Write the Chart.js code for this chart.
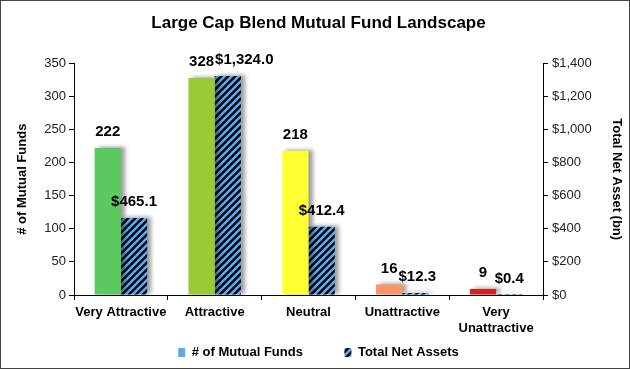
<!DOCTYPE html>
<html>
<head>
<meta charset="utf-8">
<script src="https://cdn.jsdelivr.net/npm/chart.js@4.4.0/dist/chart.umd.min.js"></script>
<style>
  html, body { margin: 0; padding: 0; background: #fff; }
  #wrap { width: 630px; height: 369px; }
</style>
</head>
<body>
<div id="wrap"><canvas id="fundcanvas" width="630" height="369"></canvas></div>
<script>
var categories  = ["Very Attractive", "Attractive", "Neutral", "Unattractive", ["Very", "Unattractive"]];
var fundCounts  = [222, 328, 218, 16, 9];
var netAssets   = [465.1, 1324.0, 412.4, 12.3, 0.4];
var fundColors  = ["#5cc95e", "#9acb34", "#ffff33", "#fb9468", "#d42020"];
var leftTicks   = [0, 50, 100, 150, 200, 250, 300, 350];
var rightTicks  = [0, 200, 400, 600, 800, 1000, 1200, 1400];

var FONT = "Arial, 'Liberation Sans', sans-serif";

// black/blue diagonal hatch for the asset bars
var hatch = (function () {
    var s = 7;
    var c = document.createElement('canvas');
    c.width = s; c.height = s;
    var g = c.getContext('2d');
    g.fillStyle = '#000';
    g.fillRect(0, 0, s, s);
    g.strokeStyle = '#5aabf5';
    g.lineWidth = 2.6;
    g.beginPath();
    g.moveTo(-1, 1); g.lineTo(1, -1);
    g.moveTo(0, s); g.lineTo(s, 0);
    g.moveTo(s - 1, s + 1); g.lineTo(s + 1, s - 1);
    g.stroke();
    return document.getElementById('fundcanvas').getContext('2d').createPattern(c, 'repeat');
})();

var shadowPlugin = {
    id: 'barShadow',
    beforeDatasetsDraw: function (chart) {
        var ctx = chart.ctx;
        ctx.save();
        ctx.shadowColor = 'rgba(0,0,0,0.38)';
        ctx.shadowBlur = 4;
        ctx.shadowOffsetX = 4;
        ctx.shadowOffsetY = -1;
    },
    afterDatasetsDraw: function (chart) {
        chart.ctx.restore();
    }
};

function fmtLabel(i, v) {
    if (i === 0) return String(v);
    return '$' + v.toLocaleString('en-US', { minimumFractionDigits: 1, maximumFractionDigits: 1 });
}

var labelPlugin = {
    id: 'valueLabels',
    afterDraw: function (chart) {
        var ctx = chart.ctx;
        ctx.save();
        ctx.font = "bold 15px " + FONT;
        ctx.fillStyle = '#000';
        ctx.textAlign = 'center';
        ctx.textBaseline = 'middle';
        var m0 = chart.getDatasetMeta(0).data;
        var m1 = chart.getDatasetMeta(1).data;
        for (var j = 0; j < m0.length; j++) {
            var t0 = fmtLabel(0, fundCounts[j]);
            var t1 = fmtLabel(1, netAssets[j]);
            var x0 = m0[j].x, x1 = m1[j].x;
            var y0 = m0[j].y - 16, y1 = m1[j].y - 16;
            // nudge the second label right when the two would collide
            if (Math.abs(y0 - y1) < 14) {
                var gap = (x1 - ctx.measureText(t1).width / 2) - (x0 + ctx.measureText(t0).width / 2);
                if (gap < 1) x1 += 1 - gap;
            }
            ctx.fillText(t0, x0, y0);
            ctx.fillText(t1, x1, y1);
        }
        ctx.restore();
    }
};

var borderPlugin = {
    id: 'frame',
    afterDraw: function (chart) {
        var ctx = chart.ctx;
        ctx.save();
        ctx.strokeStyle = '#444';
        ctx.lineWidth = 1;
        ctx.strokeRect(0.5, 0.5, chart.width - 1, chart.height - 1);
        ctx.restore();
    }
};

new Chart(document.getElementById('fundcanvas').getContext('2d'), {
    type: 'bar',
    data: {
        labels: categories,
        datasets: [{
            label: '# of Mutual Funds',
            data: fundCounts,
            backgroundColor: fundColors,
            yAxisID: 'y'
        }, {
            label: 'Total Net Assets',
            data: netAssets,
            backgroundColor: hatch,
            yAxisID: 'y1'
        }]
    },
    options: {
        responsive: false,
        animation: false,
        categoryPercentage: 0.56,
        barPercentage: 1.0,
        layout: { padding: { left: 10, right: 3, top: 0, bottom: 0 } },
        plugins: {
            title: {
                display: true,
                text: 'Large Cap Blend Mutual Fund Landscape',
                color: '#000',
                font: { family: FONT, size: 17, weight: 'bold' },
                padding: { top: 13, bottom: 30 }
            },
            legend: {
                position: 'bottom',
                labels: {
                    color: '#000',
                    font: { family: FONT, size: 13, weight: 'bold' },
                    boxWidth: 7,
                    boxHeight: 9,
                    padding: 9,
                    generateLabels: function (chart) {
                        return [
                            { text: '# of Mutual Funds         ', fillStyle: '#62a9ec', strokeStyle: '#62a9ec', lineWidth: 0, datasetIndex: 0 },
                            { text: 'Total Net Assets', fillStyle: hatch, strokeStyle: '#000', lineWidth: 0, datasetIndex: 1 }
                        ];
                    }
                }
            },
            tooltip: { enabled: false }
        },
        scales: {
            x: {
                grid: { display: true, drawOnChartArea: false, color: '#000', tickLength: 5, offset: true },
                border: { display: true, color: '#000', width: 1 },
                ticks: { color: '#000', font: { family: FONT, size: 13, weight: 'bold' }, maxRotation: 0, autoSkip: false, padding: 5 },
                afterFit: function (s) { s.height = 42; }
            },
            y: {
                position: 'left',
                min: 0, max: 350,
                afterBuildTicks: function (s) { s.ticks = leftTicks.map(function (v) { return { value: v }; }); },
                grid: { display: true, drawOnChartArea: false, color: '#000', tickLength: 5 },
                border: { display: true, color: '#000', width: 1 },
                ticks: { color: '#222', font: { family: FONT, size: 13 }, padding: 3 },
                title: { display: true, text: '# of Mutual Funds', color: '#000', font: { family: FONT, size: 13, weight: 'bold' }, padding: { top: 5, bottom: 0 } },
                afterFit: function (s) { s.width = 64; }
            },
            y1: {
                position: 'right',
                min: 0, max: 1400,
                afterBuildTicks: function (s) { s.ticks = rightTicks.map(function (v) { return { value: v }; }); },
                grid: { display: true, drawOnChartArea: false, color: '#000', tickLength: 5 },
                border: { display: true, color: '#000', width: 1 },
                ticks: {
                    color: '#222',
                    font: { family: FONT, size: 13 },
                    padding: 4,
                    callback: function (v) { return '$' + v.toLocaleString('en-US'); }
                },
                title: { display: true, text: 'Total Net Asset (bn)', color: '#000', font: { family: FONT, size: 13, weight: 'bold' }, padding: { top: 3, bottom: 0 } },
                afterFit: function (s) { s.width = 84; }
            }
        }
    },
    plugins: [shadowPlugin, labelPlugin, borderPlugin]
});
</script>
</body>
</html>
